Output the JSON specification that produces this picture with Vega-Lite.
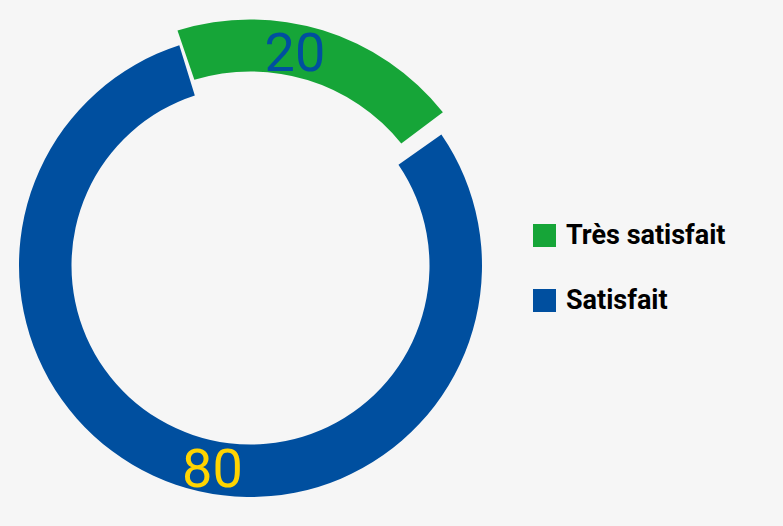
{
  "$schema": "https://vega.github.io/schema/vega-lite/v6.json",
  "autosize": "none",
  "width": 491,
  "height": 519,
  "padding": {"left": 5, "top": 6, "right": 287, "bottom": 1},
  "background": "#f6f6f6",
  "config": {"view": {"stroke": null}},
  "data": {
    "values": [
      {"category": "Très satisfait", "value": 20},
      {"category": "Satisfait", "value": 80}
    ]
  },
  "encoding": {
    "theta": {"field": "value", "type": "quantitative", "stack": true, "scale": {"range": [-0.3, 5.9832]}},
    "order": {"field": "category", "sort": "descending"}
  },
  "layer": [
    {
      "mark": {"type": "arc", "padAngle": 0.02, "innerRadius": 179, "outerRadius": 231.5},
      "encoding": {
        "color": {
          "field": "category", "type": "nominal",
          "scale": {"domain": ["Très satisfait", "Satisfait"], "range": ["#16a538", "#004f9f"]},
          "legend": {
            "orient": "none", "legendX": 526, "legendY": 216, "title": null,
            "symbolType": "square", "symbolSize": 529, "symbolStrokeWidth": 0, "symbolOpacity": 1,
            "labelFont": "Roboto", "labelFontSize": 27, "labelFontWeight": "bold", "labelColor": "#000000",
            "labelOffset": 8, "rowPadding": 37, "labelLimit": 400
          }
        },
        "opacity": {"condition": {"test": "datum.category === 'Très satisfait'", "value": 0}, "value": 1}
      }
    },
    {
      "mark": {"type": "arc", "padAngle": 0.045, "innerRadius": 194, "outerRadius": 246, "thetaOffset": -0.03},
      "encoding": {
        "color": {"field": "category", "type": "nominal"},
        "opacity": {"condition": {"test": "datum.category === 'Satisfait'", "value": 0}, "value": 1}
      }
    },
    {
      "mark": {"type": "text", "font": "Roboto", "fontSize": 54, "align": "center", "baseline": "middle", "thetaOffset": -0.12, "radius": 215},
      "encoding": {
        "text": {"field": "value", "type": "quantitative"},
        "color": {"value": "#004f9f"},
        "opacity": {"condition": {"test": "datum.category === 'Satisfait'", "value": 0}, "value": 1}
      }
    },
    {
      "mark": {"type": "text", "font": "Roboto", "fontSize": 54, "align": "center", "baseline": "middle", "thetaOffset": -0.145, "radius": 209},
      "encoding": {
        "text": {"field": "value", "type": "quantitative"},
        "color": {"value": "#ffd400"},
        "opacity": {"condition": {"test": "datum.category === 'Très satisfait'", "value": 0}, "value": 1}
      }
    }
  ]
}
